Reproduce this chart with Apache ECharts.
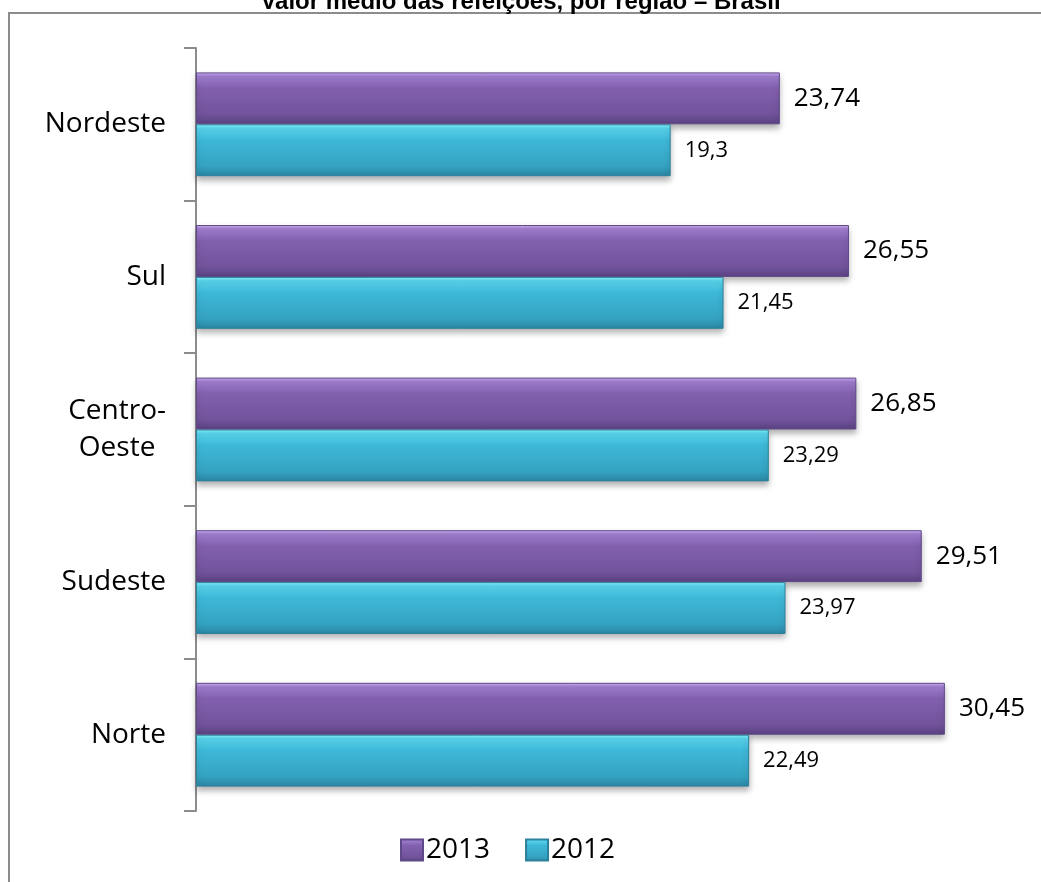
<!DOCTYPE html>
<html>
<head>
<meta charset="utf-8">
<script src="https://cdn.jsdelivr.net/npm/echarts@6/dist/echarts.min.js"></script>
<style>
html,body{margin:0;padding:0;background:#fff;}
#chart{width:1041px;height:882px;}
</style>
</head>
<body>
<div id="chart"></div>
<script>
const titleText = 'Valor médio das refeições, por região – Brasil';
const categories = ['Nordeste', 'Sul', 'Centro-Oeste', 'Sudeste', 'Norte'];
const seriesNames = ['2013', '2012'];
const values2013 = [23.74, 26.55, 26.85, 29.51, 30.45];
const values2012 = [19.3, 21.45, 23.29, 23.97, 22.49];

const fmt = v => String(v).replace('.', ',');
const FONT = '"Open Sans", sans-serif';

const purple = {
  type: 'linear', x: 0, y: 0, x2: 0, y2: 1,
  colorStops: [
    {offset: 0, color: '#d4b6f8'},
    {offset: 0.07, color: '#a280d2'},
    {offset: 0.3, color: '#8260ae'},
    {offset: 0.8, color: '#72539c'},
    {offset: 1, color: '#5a4282'}
  ]
};
const cyan = {
  type: 'linear', x: 0, y: 0, x2: 0, y2: 1,
  colorStops: [
    {offset: 0, color: '#8ef6fd'},
    {offset: 0.07, color: '#5ad6ee'},
    {offset: 0.3, color: '#3eb8d8'},
    {offset: 0.8, color: '#35a3c2'},
    {offset: 1, color: '#2a86a3'}
  ]
};

const chart = echarts.init(document.getElementById('chart'), null, {renderer: 'canvas'});
chart.setOption({
  backgroundColor: '#fff',
  animation: false,
  title: {
    text: titleText,
    left: 'center',
    top: -15,
    textStyle: {fontFamily: '"Liberation Sans", Arial, sans-serif', fontWeight: 'bold', fontSize: 24, color: '#000'}
  },
  graphic: [{
    type: 'polyline', z: -10, silent: true,
    shape: {points: [[9, 1000], [9, 13], [1100, 13]]},
    style: {fill: 'none', stroke: '#8c8c8c', lineWidth: 2}
  }],
  legend: {
    bottom: 13,
    left: 395,
    itemWidth: 22,
    itemHeight: 21,
    itemGap: 35,
    icon: 'rect',
    data: seriesNames,
    textStyle: {fontFamily: FONT, fontSize: 28, color: '#000', padding: [0, 0, 0, -2]}
  },
  grid: {left: 196, right: 58, top: 48, bottom: 71, containLabel: false},
  xAxis: {
    type: 'value', min: 0, max: 32, show: false
  },
  yAxis: {
    type: 'category',
    data: categories,
    inverse: true,
    axisLine: {show: true, lineStyle: {color: '#8c8c8c', width: 2}},
    axisTick: {show: true, length: 12, lineStyle: {color: '#8c8c8c', width: 2}},
    axisLabel: {
      fontFamily: FONT, fontSize: 28, color: '#000', margin: 30,
      formatter: v => v === 'Centro-Oeste' ? '{c|Centro-}\n{c|Oeste}' : v,
      lineHeight: 37,
      rich: {c: {align: 'center', fontFamily: FONT, fontSize: 28, color: '#000', lineHeight: 37}}
    }
  },
  series: [
    {
      name: seriesNames[0], type: 'bar', data: values2013,
      barGap: '0%', barCategoryGap: '32%',
      itemStyle: {color: purple, borderColor: '#5e4888', borderWidth: 1,
        shadowColor: 'rgba(0,0,0,0.3)', shadowBlur: 6, shadowOffsetY: 4},
      label: {show: true, position: 'right', distance: 14, fontFamily: FONT, fontSize: 26, color: '#000',
        formatter: p => fmt(p.value)}
    },
    {
      name: seriesNames[1], type: 'bar', data: values2012,
      barGap: '0%', barCategoryGap: '32%',
      itemStyle: {color: cyan, borderColor: '#2c809b', borderWidth: 1,
        shadowColor: 'rgba(0,0,0,0.3)', shadowBlur: 6, shadowOffsetY: 4},
      label: {show: true, position: 'right', distance: 14, fontFamily: FONT, fontSize: 22, color: '#000',
        formatter: p => fmt(p.value)}
    }
  ]
});
</script>
</body>
</html>
